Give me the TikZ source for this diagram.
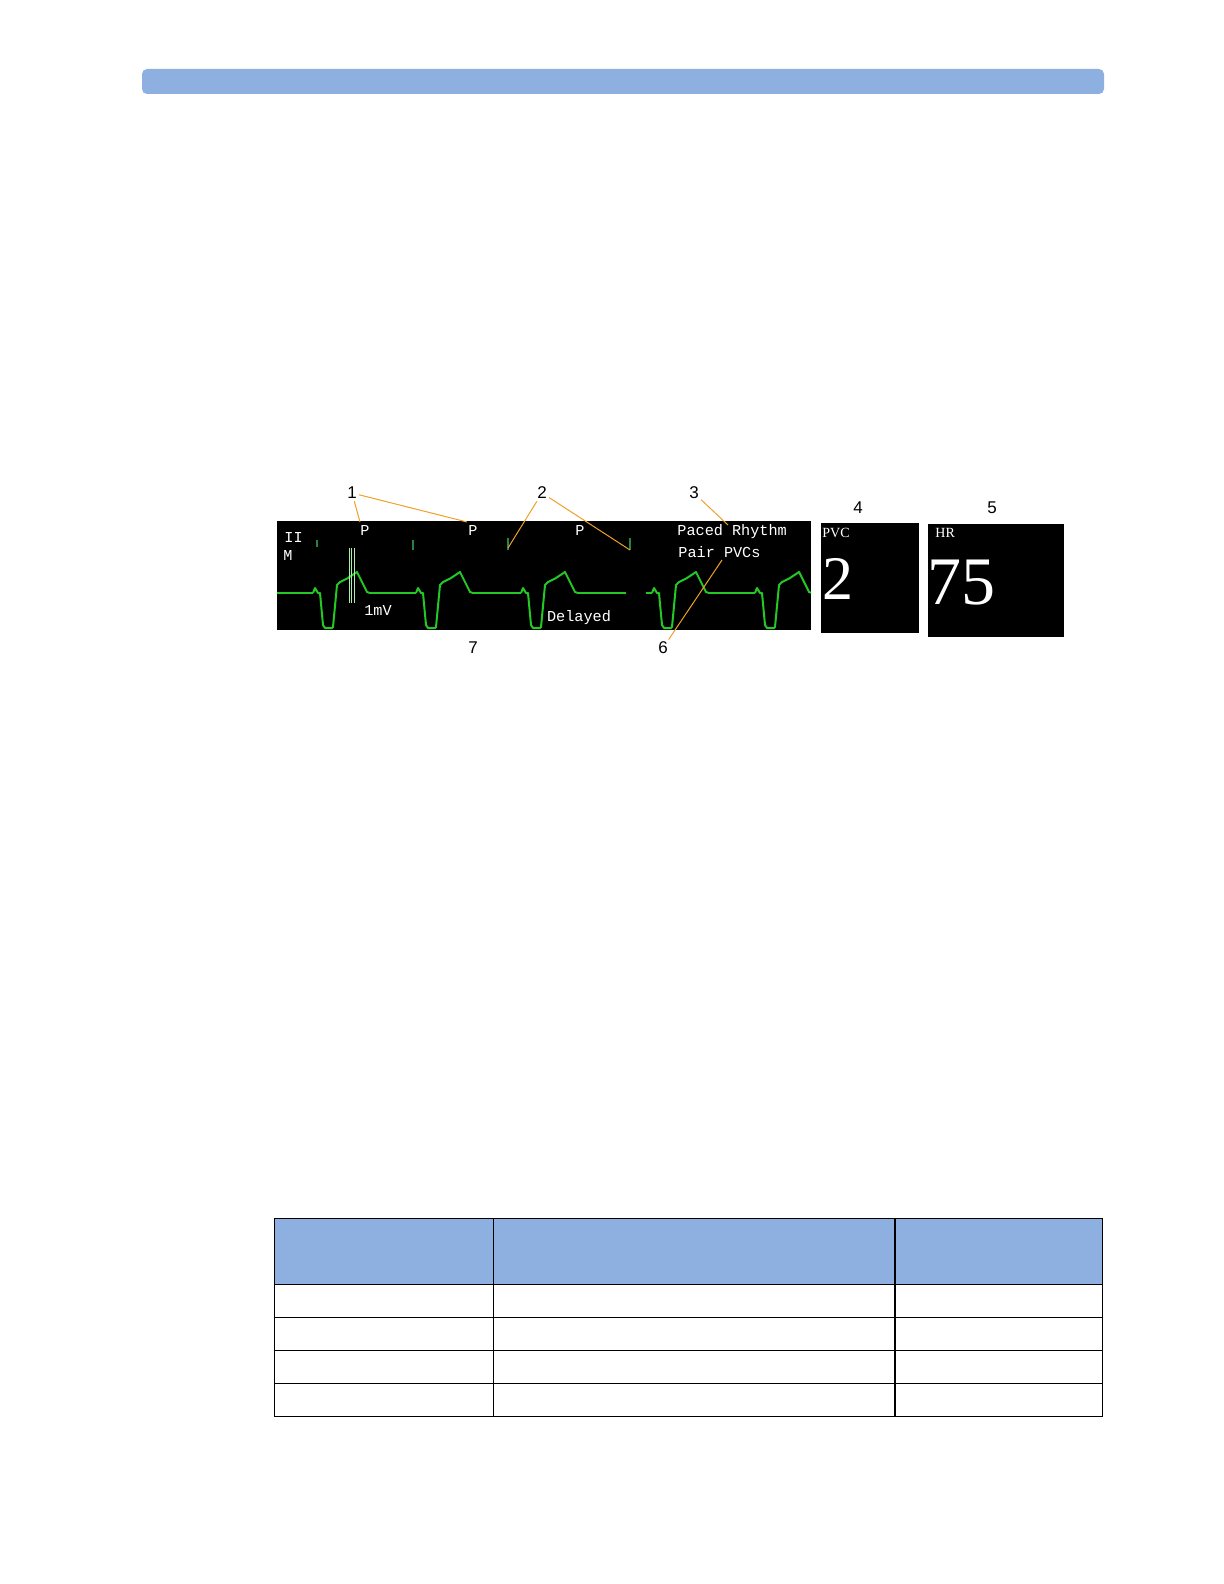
\documentclass[tikz,border=0pt]{standalone}
\usepackage{fontspec}
\setmainfont{Liberation Sans}
\newfontfamily\monitorfont{Liberation Mono}
\newfontfamily\valuefont{Liberation Serif}

\definecolor{barblue}{RGB}{141,176,224}
\definecolor{ecggreen}{RGB}{36,200,36}
\definecolor{pacegreen}{RGB}{40,130,70}
\definecolor{calgreen}{RGB}{170,240,170}
\definecolor{leadorange}{RGB}{238,160,40}

\tikzset{
  ecg/.style={ecggreen, line width=1pt, line join=round},
  pace/.style={pacegreen, line width=0.6pt},
  lead/.style={leadorange, line width=0.5pt},
  callout/.style={font=\fontsize{8.5}{10}\selectfont, inner sep=1pt},
  monitor/.style={white, font=\monitorfont\fontsize{7.6}{9}\selectfont, inner sep=0pt},
  screen/.style={fill=black, draw=none},
  grid/.style={line width=0.6pt},
  beat/.pic={
    \draw[ecg] (-2,0) -- (0,-5) -- (3,0) -- (5,0) -- (8,32) -- (10,35) -- (17,35)
      -- (18,34) -- (22,-8) -- (25,-11) -- (33,-15) -- (42,-21) -- (47,-11)
      -- (52,-1) -- (55,0);
  }
}

\begin{document}
\begin{tikzpicture}[x=0.5pt, y=-0.5pt]
    \useasboundingbox (0,0) rectangle (1224,1584);

    % header bar
    \fill[barblue, rounded corners=2.5pt] (142,69) rectangle (1104,94);

    % monitor screens
    \fill[screen] (277,521) rectangle (811,630);
    \fill[screen] (821,523) rectangle (919,633);
    \fill[screen] (928,524) rectangle (1064,637);

    % wave
    \begin{scope}
        \clip (277,521) rectangle (811,630);
        \foreach \s in {315,418,523,654,757}
            \pic at (\s,593) {beat};
        \draw[ecg] (277,593) -- (313,593);
        \draw[ecg] (370,593) -- (416,593);
        \draw[ecg] (473,593) -- (521,593);
        \draw[ecg] (578,593) -- (626,593);
        \draw[ecg] (646,593) -- (652,593);
        \draw[ecg] (709,593) -- (755,593);
    \end{scope}

    % calibration bars
    \foreach \x in {349.3,351.7,354}
        \draw[calgreen, line width=0.4pt] (\x,548) -- (\x,603);

    % pacer marks
    \coordinate(k1) at (317,540);
    \coordinate(k2) at (413,540);
    \coordinate(k3) at (508,538);
    \coordinate(k4) at (630,538);
    \draw[pace] (k1) -- ++(0,7);
    \draw[pace] (k2) -- ++(0,10);
    \draw[pace] (k3) -- ++(0,12);
    \draw[pace] (k4) -- ++(0,12);

    % screen texts
    \node[monitor, anchor=west] (lead) at (284,537) {II};
    \node[monitor, anchor=west] (mode) at (283,555) {M};
    \node[monitor] (p1) at (365,530) {P};
    \node[monitor] (p2) at (473,530) {P};
    \node[monitor] (p3) at (580,530) {P};
    \node[monitor] (cal) at (378,610) {1mV};
    \node[monitor] (del) at (579,618) {Delayed};
    \node[monitor, anchor=west] (rhythm) at (677,532) {Paced Rhythm};
    \node[monitor, anchor=west] (pvcs) at (678,552) {Pair PVCs};

    \node[white, anchor=west, inner sep=0pt, font=\valuefont\fontsize{7}{8}\selectfont] (pvclab) at (822,533) {PVC};
    \node[white, anchor=west, inner sep=0pt, font=\valuefont\fontsize{7}{8}\selectfont] (hrlab) at (935,533) {HR};
    \node[white, inner sep=0pt, font=\valuefont\fontsize{31}{31}\selectfont] (pvcval) at (837.5,579) {2};
    \node[white, inner sep=0pt, font=\valuefont\fontsize{34}{34}\selectfont] (hrval) at (961,583) {75};

    % callouts
    \node[callout] (n1) at (352,493) {1};
    \node[callout] (n2) at (542,493) {2};
    \node[callout] (n3) at (694,493) {3};
    \node[callout] (n4) at (858,508) {4};
    \node[callout] (n5) at (992,508) {5};
    \node[callout] (n6) at (663,648) {6};
    \node[callout] (n7) at (473,648) {7};

    \coordinate(t1a) at (360,522);
    \coordinate(t1b) at (467,522);
    \coordinate(t3) at (728,525);
    \coordinate(t6) at (722,560);

    \draw[lead] (n1) to (t1a);
    \draw[lead] (n1) to (t1b);
    \draw[lead] (n2) to ([yshift=-5]k3);
    \draw[lead] (n2) to ([yshift=-6]k4);
    \draw[lead] (n3) to (t3);
    \draw[lead] (n6) to (t6);

    % table
    \fill[barblue] (274.3,1218.3) rectangle (1102.7,1284.3);
    \foreach \y in {1218.3,1284.3,1317.3,1350.3,1383.3,1416.3}
        \draw[grid] (274.3,\y) -- (1102.7,\y);
    \foreach \x in {274.3,493.3,895,1102.7}
        \draw[grid] (\x,1218.3) -- (\x,1416.3);
\end{tikzpicture}
\end{document}
